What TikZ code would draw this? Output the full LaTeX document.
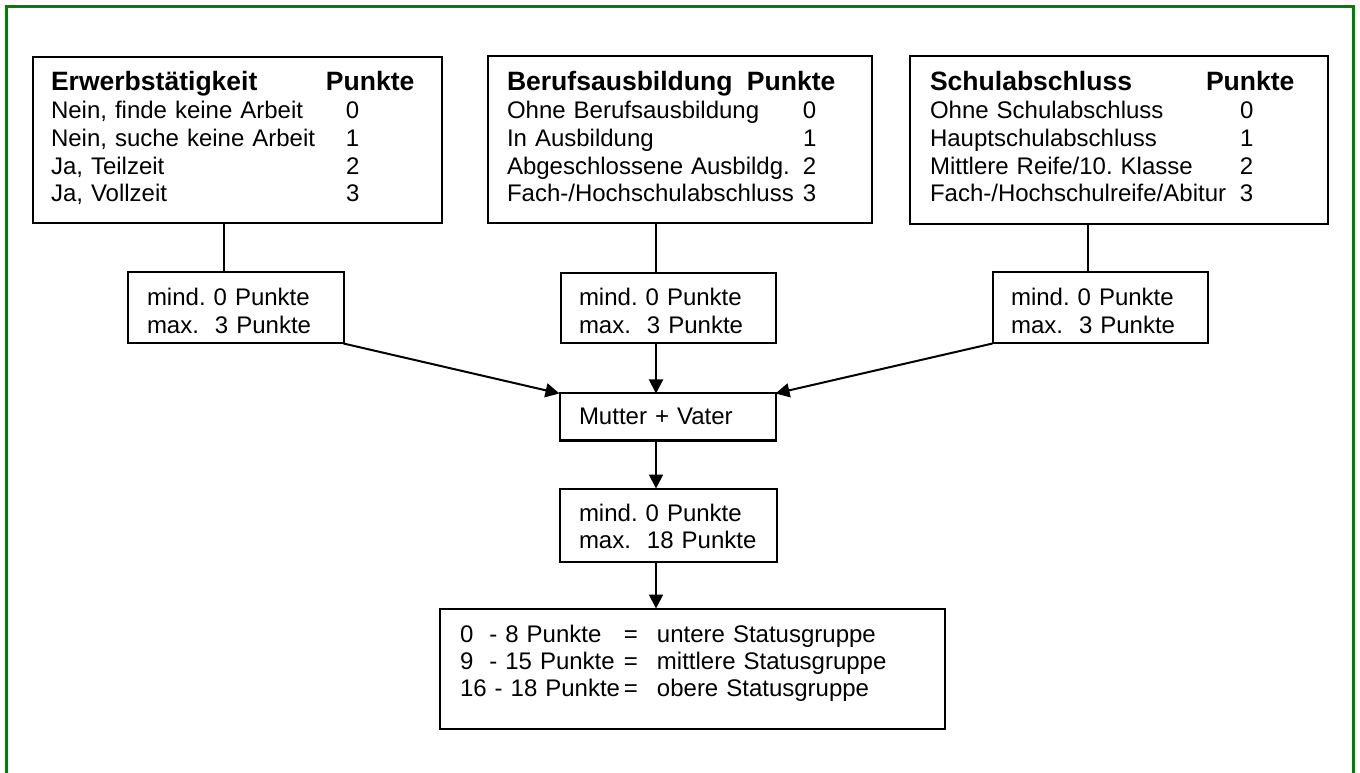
\documentclass[tikz,border=0pt]{standalone}
\usepackage{fontspec}
\setmainfont{Liberation Sans}
\usetikzlibrary{arrows.meta}
\newlength\pxu
\setlength\pxu{0.75pt}
\definecolor{framegreen}{RGB}{0,128,0}
\newcommand\fs{\rule{0pt}{20\pxu}}
\newcommand\hd[1]{{\fs\fontsize{19.9pt}{20.8pt}\selectfont\bfseries #1}}
\frenchspacing
\begin{document}
\begin{tikzpicture}[x=\pxu,y=-\pxu,
  box/.style={draw,line width=1.5pt,inner sep=0pt,outer sep=0pt,rectangle},
  txt/.style={inner sep=0pt,outer sep=0pt,anchor=north west,align=left,text width=#1,
    font=\fontsize{18pt}{20.8pt}\selectfont\frenchspacing},
  txt/.default=300pt,
  conn/.style={line width=1.5pt},
  arr/.style={conn,-{Triangle[length=10.5pt,width=10.5pt]}},
  frame/.style={draw=framegreen,line width=1.9pt}]
\useasboundingbox (0,0) rectangle (1360,773);
\draw[frame] (6.5,773) -- (6.5,6.5) -- (1353.5,6.5) -- (1353.5,773);

% top boxes
\node[box,minimum width=409\pxu,minimum height=166\pxu] (b1) at (237,140.5) {};
\node[box,minimum width=384\pxu,minimum height=167\pxu] (b2) at (679.5,140) {};
\node[box,minimum width=418\pxu,minimum height=168\pxu] (b3) at (1118.5,140.5) {};

\node[txt] (b1t) at (51,71) {\hd{\makebox[275\pxu][l]{Erwerbstätigkeit}Punkte}\\
\makebox[295\pxu][l]{Nein, finde keine Arbeit}0\\
\makebox[295\pxu][l]{Nein, suche keine Arbeit}1\\
\makebox[295\pxu][l]{Ja, Teilzeit}2\\
\makebox[295\pxu][l]{Ja, Vollzeit}3};

\node[txt] (b2t) at (507,71) {\hd{\makebox[240\pxu][l]{Berufsausbildung}Punkte}\\
\makebox[296\pxu][l]{Ohne Berufsausbildung}0\\
\makebox[296\pxu][l]{In Ausbildung}1\\
\makebox[296\pxu][l]{Abgeschlossene Ausbildg.}2\\
\makebox[296\pxu][l]{Fach-/Hochschulabschluss}3};

\node[txt] (b3t) at (930,71) {\hd{\makebox[276\pxu][l]{Schulabschluss}Punkte}\\
\makebox[310\pxu][l]{Ohne Schulabschluss}0\\
\makebox[310\pxu][l]{Hauptschulabschluss}1\\
\makebox[310\pxu][l]{Mittlere Reife/10. Klasse}2\\
\makebox[310\pxu][l]{Fach-/Hochschulreife/Abitur}3};

% small boxes
\node[box,minimum width=216\pxu,minimum height=71\pxu] (s1) at (235.5,308) {};
\node[box,minimum width=215\pxu,minimum height=70\pxu] (s2) at (668,308.5) {};
\node[box,minimum width=215\pxu,minimum height=71\pxu] (s3) at (1100,308) {};
\node[txt=150pt] (s1t) at (147,286) {\fs mind. 0 Punkte\\max.~~3 Punkte};
\node[txt=150pt] (s2t) at (579,286) {\fs mind. 0 Punkte\\max.~~3 Punkte};
\node[txt=150pt] (s3t) at (1011,286) {\fs mind. 0 Punkte\\max.~~3 Punkte};

% middle chain
\node[box,minimum width=216\pxu,minimum height=47\pxu] (m) at (667.5,417) {};
\node[txt=150pt] (mt) at (579,405) {\fs Mutter + Vater};
\node[box,minimum width=217\pxu,minimum height=73\pxu] (mm) at (668,525) {};
\node[txt=150pt] (mmt) at (579,501) {\fs mind. 0 Punkte\\max.~~18 Punkte};

% bottom box
\node[box,minimum width=505\pxu,minimum height=120\pxu] (bt) at (692,668.5) {};
\node[txt=360pt,font=\fontsize{18pt}{20.25pt}\selectfont\frenchspacing] (btt) at (460,622) {\fs\makebox[164\pxu][l]{0~~- 8 Punkte}\makebox[33\pxu][l]{=}untere Statusgruppe\\
\makebox[164\pxu][l]{9~~- 15 Punkte}\makebox[33\pxu][l]{=}mittlere Statusgruppe\\
\makebox[164\pxu][l]{16 - 18 Punkte}\makebox[33\pxu][l]{=}obere Statusgruppe};

% connectors
\coordinate (k1) at (224,0);
\coordinate (k2) at (656,0);
\coordinate (k3) at (1088,0);
\draw[conn] (b1.south -| k1) -- (s1.north -| k1);
\draw[conn] (b2.south -| k2) -- (s2.north -| k2);
\draw[conn] (b3.south -| k3) -- (s3.north -| k3);
\draw[arr] (s1.south east) -- (m.north west);
\draw[arr] (s2.south -| k2) -- (m.north -| k2);
\draw[arr] (s3.south west) -- (m.north east);
\draw[arr] (m.south -| k2) -- (mm.north -| k2);
\draw[arr] (mm.south -| k2) -- (bt.north -| k2);
\end{tikzpicture}
\end{document}
